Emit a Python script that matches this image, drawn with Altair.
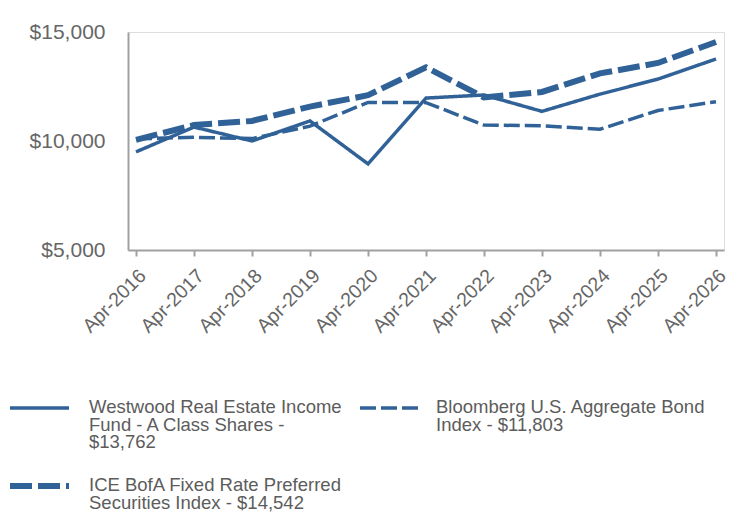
import altair as alt
import pandas as pd

# Growth of a hypothetical $10,000 investment, April of each year
years = [2016, 2017, 2018, 2019, 2020, 2021, 2022, 2023, 2024, 2025, 2026]
fund = [9500, 10640, 10000, 10920, 8950, 11970, 12110, 11360, 12150, 12840, 13762]
bond = [10100, 10170, 10110, 10680, 11770, 11760, 10730, 10700, 10540, 11400, 11803]
pref = [10050, 10730, 10920, 11580, 12100, 13380, 12000, 12250, 13100, 13580, 14542]

series = [
    "Westwood Real Estate Income Fund - A Class Shares - $13,762",
    "Bloomberg U.S. Aggregate Bond Index - $11,803",
    "ICE BofA Fixed Rate Preferred Securities Index - $14,542",
]
legend_text = [
    "Westwood Real Estate Income\nFund - A Class Shares -\n$13,762",
    "Bloomberg U.S. Aggregate Bond\nIndex - $11,803",
    "ICE BofA Fixed Rate Preferred\nSecurities Index - $14,542",
]

BLUE = "#306298"
AXIS_GREY = "#a0a0a0"
LABEL_GREY = "#666666"
TEXT_GREY = "#5c5c5c"
FONT = "Liberation Sans"

# line styles per series: (stroke width, dash pattern)
styles = [(3.5, [1, 0]), (3.5, [16, 5]), (6, [22, 6])]

rows = []
for name, vals in zip(series, [fund, bond, pref]):
    for yr, v in zip(years, vals):
        rows.append({"year": yr, "value": v, "series": name})
df = pd.DataFrame(rows)

legend_df = pd.DataFrame({"series": series, "text": legend_text})

step_pad = 8 / 58
x_scale = alt.Scale(domain=[years[0] - step_pad, years[-1] + step_pad], nice=False, zero=False)
y_scale = alt.Scale(domain=[5000, 15000], nice=False, zero=False)

layers = []
for i, name in enumerate(series):
    w, dash = styles[i]
    line = (
        alt.Chart(df)
        .transform_filter(alt.datum.series == name)
        .mark_line(color=BLUE, strokeWidth=w, strokeDash=dash, strokeCap="butt")
        .encode(
            x=alt.X(
                "year:Q",
                scale=x_scale,
                axis=alt.Axis(
                    values=years,
                    labelExpr="'Apr-' + datum.value",
                    labelAngle=-45,
                    labelOverlap=False,
                    labelFontSize=19.5,
                    labelColor=LABEL_GREY,
                    labelFont=FONT,
                    labelPadding=10,
                    tickSize=6,
                    tickColor=AXIS_GREY,
                    tickWidth=2,
                    domainColor=AXIS_GREY,
                    domainWidth=2,
                    grid=False,
                    title=None,
                ),
            ),
            y=alt.Y(
                "value:Q",
                scale=y_scale,
                axis=alt.Axis(
                    values=[5000, 10000, 15000],
                    format="$,.0f",
                    labelFontSize=21,
                    labelColor=LABEL_GREY,
                    labelFont=FONT,
                    labelPadding=23,
                    ticks=False,
                    tickSize=0,
                    domainColor=AXIS_GREY,
                    domainWidth=2,
                    grid=False,
                    title=None,
                ),
            ),
        )
    )
    layers.append(line)

# legend entries below the plot: symbol start, text start, row y (pixels from plot origin)
legend_pos = [(-118, -39, 376), (232, 308, 376), (-118, -39, 454)]
for i, name in enumerate(series):
    w, dash = styles[i]
    sx, tx, ly = legend_pos[i]
    base = alt.Chart(legend_df).transform_filter(alt.datum.series == name)
    sym = base.mark_rule(color=BLUE, strokeWidth=w, strokeDash=dash, strokeCap="butt").encode(
        x=alt.value(sx), x2=alt.value(sx + 59), y=alt.value(ly)
    )
    txt = base.mark_text(
        align="left",
        baseline="alphabetic",
        lineBreak="\n",
        lineHeight=17.5,
        fontSize=18.5,
        font=FONT,
        color=TEXT_GREY,
    ).encode(x=alt.value(tx), y=alt.value(ly + 5), text="text:N")
    layers += [sym, txt]

chart = (
    alt.layer(*layers)
    .properties(
        width=596,
        height=218,
        autosize=alt.AutoSizeParams(type="none"),
        padding={"left": 128, "top": 32, "right": 20, "bottom": 266},
    )
    .configure_view(stroke=None)
    .configure(background="white")
)

chart.save("out.html", embed_options={"renderer": "svg", "actions": False})
